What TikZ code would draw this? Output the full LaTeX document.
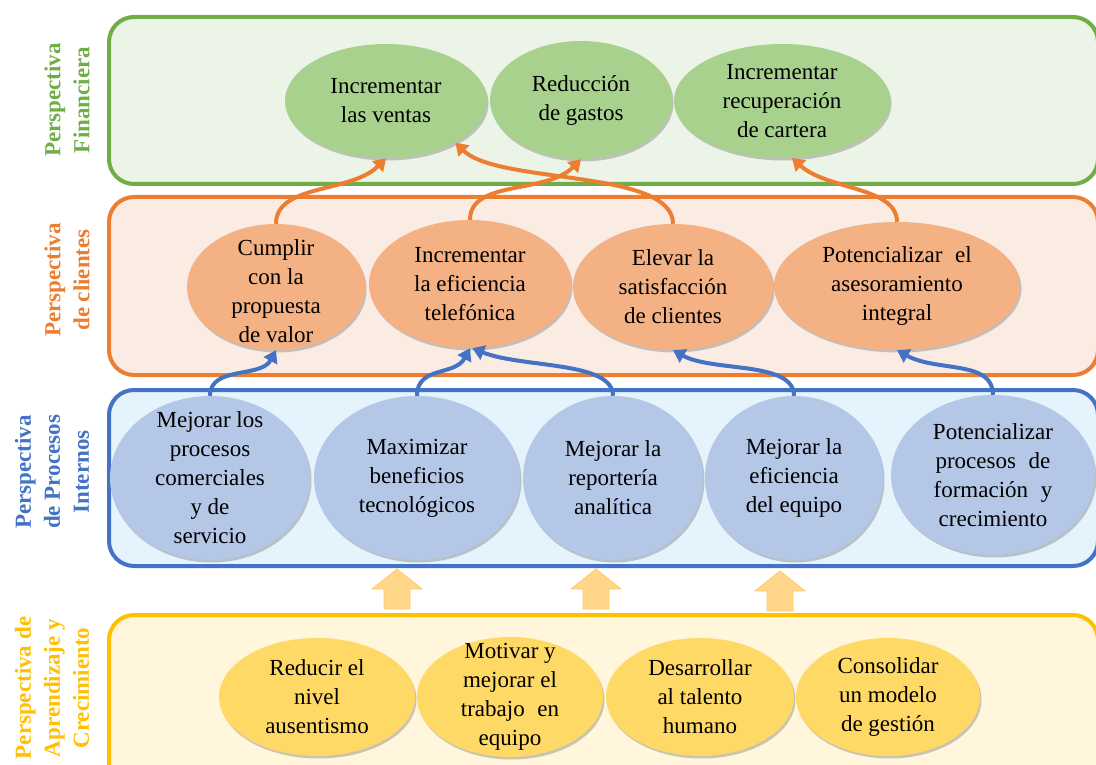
\documentclass[tikz,border=0pt]{standalone}
\usepackage{fontspec}
\setmainfont{Liberation Serif}
\usetikzlibrary{shapes.geometric,arrows.meta,shadows}

% perspective colours
\definecolor{gline}{RGB}{112,173,71}
\definecolor{gfill}{RGB}{236,243,231}
\definecolor{gell}{RGB}{169,209,142}
\definecolor{oline}{RGB}{237,125,49}
\definecolor{ofill}{RGB}{251,236,227}
\definecolor{oell}{RGB}{244,177,131}
\definecolor{bline}{RGB}{68,114,196}
\definecolor{bfill}{RGB}{229,243,252}
\definecolor{bell}{RGB}{180,199,231}
\definecolor{yline}{RGB}{255,192,0}
\definecolor{yfill}{RGB}{255,246,220}
\definecolor{yell}{RGB}{255,217,102}
\definecolor{blkfill}{RGB}{255,214,138}
\definecolor{blkline}{RGB}{255,204,100}

\tikzset{
  panel/.style={rounded corners=25pt, line width=4pt},
  goal/.style={ellipse, inner sep=0pt,
    drop shadow={shadow xshift=1.5pt, shadow yshift=-2.5pt, opacity=.35, fill=black!60}},
  sz/.style 2 args={minimum width=#1pt, minimum height=#2pt},
  txt/.style={align=center, inner sep=0pt, font=\fontsize{23}{29}\selectfont},
  side/.style={rotate=90, align=center, inner sep=0pt, font=\fontsize{23}{29}\selectfont\bfseries},
  link/.style={line width=4pt, -{Triangle[length=12pt,width=15pt]}},
  blk/.style={fill=blkfill, draw=blkline, line width=0.8pt},
  uparrow/.pic={\draw[blk] (0,0) -- (25,-20) -- (13,-20) -- (13,-40) -- (-13,-40) -- (-13,-20) -- (-25,-20) -- cycle;}
}

\begin{document}
\begin{tikzpicture}[x=1pt,y=1pt]
\useasboundingbox (0,0) rectangle (1096,-765);
\clip (0,0) rectangle (1096,-765);

% perspective panels
\draw[panel, draw=gline, fill=gfill] (109,-17) rectangle (1098,-184);
\draw[panel, draw=oline, fill=ofill] (109,-197) rectangle (1098,-375);
\draw[panel, draw=bline, fill=bfill] (109,-390) rectangle (1098,-566);
\draw[panel, draw=yline, fill=yfill] (109,-615) rectangle (1098,-800);

% perspective titles
\node[side, text=gline] (s1) at (67,-100) {Perspectiva\\Financiera};
\node[side, text=oline] (s2) at (67,-280) {Perspectiva\\de clientes};
\node[side, text=bline] (s3) at (52,-472) {Perspectiva\\de Procesos\\Internos};
\node[side, text=yline] (s4) at (52,-688) {Perspectiva de\\Aprendizaje y\\Crecimiento};

% financial objectives
\node[goal, fill=gell, sz={202}{114}] (f1) at (386,-101) {};
\node[goal, fill=gell, sz={182}{118}] (f2) at (581,-100) {};
\node[goal, fill=gell, sz={216}{114}] (f3) at (782,-101) {};
\node[txt] (f1t) at (f1) {Incrementar\\las ventas};
\node[txt] (f2t) at (f2) {Reducción\\de gastos};
\node[txt] (f3t) at (f3) {Incrementar\\recuperación\\de cartera};

% customer objectives
\node[goal, fill=oell, sz={178}{126}] (c1) at (276,-287) {};
\node[goal, fill=oell, sz={202}{128}] (c2) at (470,-284) {};
\node[goal, fill=oell, sz={200}{126}] (c3) at (673,-287) {};
\node[goal, fill=oell, sz={246}{128}] (c4) at (897,-286) {};
\node[txt] (c1t) at ([yshift=-4pt]c1) {Cumplir\\con la\\propuesta\\de valor};
\node[txt] (c2t) at (c2) {Incrementar\\la eficiencia\\telefónica};
\node[txt] (c3t) at (c3) {Elevar la\\satisfacción\\de clientes};
\node[txt] (c4t) at (c4) {Potencializar\hspace{0.3em} el\\asesoramiento\\integral};

% internal process objectives
\node[goal, fill=bell, sz={200}{164}] (i1) at (210,-478) {};
\node[goal, fill=bell, sz={206}{164}] (i2) at (417,-478) {};
\node[goal, fill=bell, sz={180}{164}] (i3) at (613,-478) {};
\node[goal, fill=bell, sz={178}{164}] (i4) at (794,-478) {};
\node[goal, fill=bell, sz={204}{160}] (i5) at (993,-475) {};
\node[txt] (i1t) at (i1) {Mejorar los\\procesos\\comerciales\\y de\\servicio};
\node[txt] (i2t) at (i2) {Maximizar\\beneficios\\tecnológicos};
\node[txt] (i3t) at (i3) {Mejorar la\\reportería\\analítica};
\node[txt] (i4t) at (i4) {Mejorar la\\eficiencia\\del equipo};
\node[txt] (i5t) at (i5) {Potencializar\\procesos\hspace{0.3em} de\\formación\hspace{0.3em} y\\crecimiento};

% learning and growth objectives
\node[goal, fill=yell, sz={196}{118}] (l1) at (317,-697) {};
\node[goal, fill=yell, sz={186}{120}] (l2) at (510,-697) {};
\node[goal, fill=yell, sz={188}{118}] (l3) at (700,-697) {};
\node[goal, fill=yell, sz={184}{118}] (l4) at (888,-697) {};
\node[txt] (l1t) at (l1) {Reducir el\\nivel\\ausentismo};
\node[txt] (l2t) at (l2) {Motivar y\\mejorar el\\trabajo\hspace{0.3em} en\\equipo};
\node[txt] (l3t) at (l3) {Desarrollar\\al talento\\humano};
\node[txt] (l4t) at (l4) {Consolidar\\un modelo\\de gestión};

% customer -> financial links
\draw[link, oline] (c1.north) .. controls +(0,40) and +(-35,-35) .. (f1.south);
\draw[link, oline] (c2.north) .. controls +(0,40) and +(-35,-35) .. (f2.south);
\draw[link, oline] (c3.north) .. controls +(0,55) and +(43,-42) .. (f1.-31);
\draw[link, oline] (c4.north) .. controls +(0,35) and +(35,-32) .. (f3.-80);

% internal process -> customer links
\draw[link, bline] (i1.north) .. controls +(0,30) and +(-15,-28) .. (c1.south);
\draw[link, bline] (i2.north) .. controls +(0,30) and +(-15,-28) .. (c2.south);
\draw[link, bline] (i3.north) .. controls +(0,35) and +(50,-20) .. (c2.-88);
\draw[link, bline] (i4.north) .. controls +(0,35) and +(40,-22) .. (c3.south);
\draw[link, bline] (i5.north) .. controls +(0,35) and +(40,-22) .. (c4.south);

% learning -> internal block arrows
\pic at (397,-569) {uparrow};
\pic at (596,-569) {uparrow};
\pic at (780,-571) {uparrow};
\end{tikzpicture}
\end{document}
